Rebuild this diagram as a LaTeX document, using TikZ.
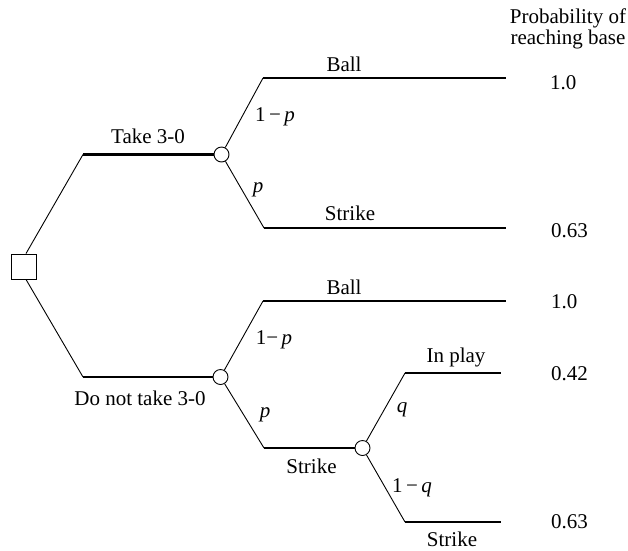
\documentclass[tikz,border=0pt]{standalone}
\usepackage{fontspec}
\setmainfont{Liberation Serif}
\begin{document}
\begin{tikzpicture}[x=1pt,y=-1pt,
  decision/.style={draw, line width=0.9pt, minimum size=25pt, inner sep=0pt},
  chance/.style={draw, circle, line width=0.9pt, fill=white, minimum size=15pt, inner sep=0pt},
  outcome/.style={line width=2.8pt},
  twig/.style={line width=0.9pt},
  lbl/.style={font=\fontsize{21}{25}\selectfont, inner sep=0pt, anchor=base},
  val/.style={lbl, anchor=base west}]
\useasboundingbox (0,0) rectangle (628,550);

% decision and chance nodes
\node[decision] (root) at (23.5,266.5) {};
\node[chance] (c1) at (221.5,154.5) {};
\node[chance] (c2) at (220.5,377) {};
\node[chance] (c3) at (362.5,448) {};

% branch corners and end points
\coordinate (a1) at (83,154.5);
\coordinate (a2) at (83,377);
\coordinate (b1) at (263,78);
\coordinate (e1) at (506,78);
\coordinate (b2) at (264,228);
\coordinate (e2) at (506,228);
\coordinate (b3) at (263,301);
\coordinate (e3) at (506,301);
\coordinate (b4) at (264,448);
\coordinate (b5) at (405,373);
\coordinate (e5) at (501,373);
\coordinate (b6) at (405,522);
\coordinate (e6) at (501,522);

% branches
\draw[twig] ([xshift=2.5pt]root.north) -- (a1);
\draw[outcome] (a1) -- (c1.west);
\draw[twig] ([xshift=2.5pt]root.south) -- (a2);
\draw[outcome] (a2) -- (c2.west);

\draw[twig] (c1) -- (b1);
\draw[outcome] (b1) -- (e1);
\draw[twig] (c1) -- (b2);
\draw[outcome] (b2) -- (e2);

\draw[twig] (c2) -- (b3);
\draw[outcome] (b3) -- (e3);
\draw[twig] (c2) -- (b4);
\draw[outcome] (b4) -- (c3.west);

\draw[twig] (c3) -- (b5);
\draw[outcome] (b5) -- (e5);
\draw[twig] (c3) -- (b6);
\draw[outcome] (b6) -- (e6);

% branch labels
\node[lbl] (ltake) at (148,143) {Take 3-0};
\node[lbl] (lnot) at (140,405) {Do not take 3-0};
\node[lbl] (lball1) at (344,71) {Ball};
\node[lbl] (lstrike1) at (350,220) {Strike};
\node[lbl] (lball2) at (344,294) {Ball};
\node[lbl] (lstrike2) at (311.5,473) {Strike};
\node[lbl] (lplay) at (456,362) {In play};
\node[lbl] (lstrike3) at (452,546) {Strike};

% probabilities on the chance branches
\node[lbl] (p1) at (275,121) {1\,−\,\textit{p}};
\node[lbl] (p2) at (258,192.5) {\textit{p}};
\node[lbl] (p3) at (274,344) {1−\,\textit{p}};
\node[lbl] (p4) at (265,417.5) {\textit{p}};
\node[lbl] (q1) at (402,412.5) {\textit{q}};
\node[lbl] (q2) at (412,492) {1\,−\,\textit{q}};

% column of outcome values
\node[lbl] (hdr1) at (568,23) {Probability of};
\node[lbl] (hdr2) at (568,44) {reaching base};
\node[val] (v1) at (550,89) {1.0};
\node[val] (v2) at (551,237) {0.63};
\node[val] (v3) at (551,308) {1.0};
\node[val] (v4) at (551,380) {0.42};
\node[val] (v5) at (551,528) {0.63};
\end{tikzpicture}
\end{document}
